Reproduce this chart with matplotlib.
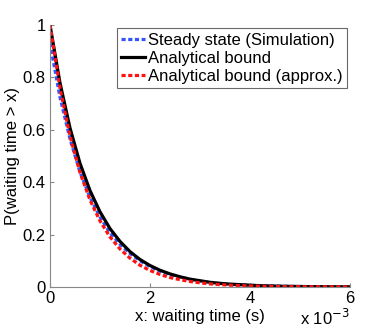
import numpy as np
import matplotlib
matplotlib.use('Agg')
import matplotlib.pyplot as plt

plt.rcParams['font.family'] = ['Liberation Sans', 'DejaVu Sans']

# waiting time x in units of 1e-3 s
x_ms = [0.0, 0.2, 0.4, 0.6, 0.8, 1.0, 1.2, 1.4, 1.6, 1.8, 2.0, 2.2, 2.4, 2.6, 2.8,
        3.0, 3.2, 3.4, 3.6, 3.8, 4.0, 4.2, 4.4, 4.6, 4.8, 5.0, 5.2, 5.4, 5.6, 5.8, 6.0]

sim = [0.93, 0.724, 0.565, 0.439, 0.342, 0.267, 0.207, 0.163, 0.128, 0.100, 0.078,
       0.061, 0.048, 0.037, 0.029, 0.022, 0.017, 0.013, 0.010, 0.008, 0.006,
       0.005, 0.004, 0.003, 0.0022, 0.0017, 0.0013, 0.001, 0.0008, 0.0006, 0.0005]

bound = [1.0, 0.779, 0.607, 0.472, 0.368, 0.287, 0.223, 0.174, 0.135, 0.105, 0.082,
         0.064, 0.050, 0.039, 0.030, 0.024, 0.018, 0.014, 0.011, 0.009, 0.007,
         0.005, 0.004, 0.003, 0.0025, 0.002, 0.0015, 0.0012, 0.0009, 0.0007, 0.0006]

approx = [1.0, 0.759, 0.576, 0.437, 0.332, 0.252, 0.191, 0.145, 0.110, 0.083, 0.063,
          0.048, 0.036, 0.028, 0.021, 0.016, 0.012, 0.009, 0.007, 0.005, 0.004,
          0.003, 0.0023, 0.0017, 0.0013, 0.001, 0.0008, 0.0006, 0.0005, 0.0004, 0.0003]

xticks = [0, 2, 4, 6]
xticklabels = ['0', '2', '4', '6']
yticks = [0, 0.2, 0.4, 0.6, 0.8, 1.0]
yticklabels = ['0', '0.2', '0.4', '0.6', '0.8', '1']

fig = plt.figure(figsize=(3.86, 3.30), dpi=100)
ax = fig.add_axes([50/386, 1 - 287/330, 300/386, 262/330])

dash = (0, (1.3, 0.8))
ax.plot(x_ms, sim, color='#3355ff', lw=2.3, linestyle=dash, label='Steady state (Simulation)')
ax.plot(x_ms, bound, color='black', lw=2.3, label='Analytical bound')
ax.plot(x_ms, approx, color='#ff1111', lw=2.3, linestyle=dash, label='Analytical bound (approx.)')

ax.set_xlim(0, 6)
ax.set_ylim(0, 1)
ax.set_xticks(xticks)
ax.set_xticklabels(xticklabels)
ax.set_yticks(yticks)
ax.set_yticklabels(yticklabels)
ax.tick_params(direction='in', length=3, color='#888888', labelsize=12, pad=3)
for s in ['top', 'right']:
    ax.spines[s].set_visible(False)
for s in ['left', 'bottom']:
    ax.spines[s].set_color('#888888')

ax.set_xlabel('x: waiting time (s)', fontsize=12, labelpad=2)
ax.set_ylabel('P(waiting time > x)', fontsize=12, labelpad=2)
fig.text(350/386, 1 - 318/330, r'x 10$^{-3}$', fontsize=12, ha='right', va='center')

leg = ax.legend(loc='upper right', fontsize=12, frameon=True, fancybox=False,
                handlelength=1.4, handletextpad=0.2, borderpad=0.25, labelspacing=0.2,
                borderaxespad=0.2)
leg.get_frame().set_edgecolor('#444444')
leg.get_frame().set_linewidth(0.8)

plt.savefig('out.png', dpi=100)
